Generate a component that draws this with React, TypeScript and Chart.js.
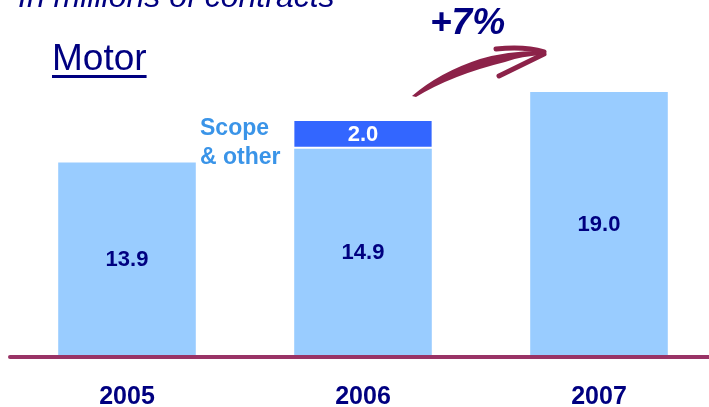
import React, { useEffect, useRef } from "react";
import { Chart, registerables } from "chart.js";

Chart.register(...registerables);

const years = ["2005", "2006", "2007"];
const baseValues = [13.9, 14.9, 19.0];
const scopeValues: (number | null)[] = [null, 2.0, null];
const headerText = "In millions of contracts";
const titleText = "Motor";
const growthText = "+7%";
const scopeTextLines = ["Scope", "& other"];

const FONT = "'Liberation Sans', Arial, Helvetica, sans-serif";
const NAVY = "#000080";
const LIGHT = "#99CCFF";
const DARK = "#3366FF";
const MAROON = "#8C2249";
const AXIS = "#993366";
const SCOPE_BLUE = "#3A94E8";

const overlayPlugin = {
  id: "overlay",
  afterDatasetsDraw(chart: any) {
    const ctx = chart.ctx as CanvasRenderingContext2D;
    const area = chart.chartArea;
    ctx.save();
    // axis line
    ctx.strokeStyle = AXIS;
    ctx.lineWidth = 4;
    ctx.lineCap = "round";
    ctx.beginPath();
    ctx.moveTo(10, area.bottom + 2);
    ctx.lineTo(chart.width + 5, area.bottom + 2);
    ctx.stroke();

    // value labels
    ctx.textAlign = "center";
    ctx.textBaseline = "middle";
    ctx.font = `bold 22px ${FONT}`;
    const meta0 = chart.getDatasetMeta(0);
    meta0.data.forEach((bar: any, i: number) => {
      const v = baseValues[i];
      ctx.fillStyle = NAVY;
      ctx.fillText(v.toFixed(1), bar.x, (bar.y + bar.base) / 2 + 1);
    });
    const meta1 = chart.getDatasetMeta(1);
    meta1.data.forEach((bar: any, i: number) => {
      const v = scopeValues[i];
      if (v == null) return;
      ctx.fillStyle = "#FFFFFF";
      ctx.fillText(v.toFixed(1), bar.x, (bar.y + bar.base) / 2);
    });

    // header
    ctx.textAlign = "left";
    ctx.textBaseline = "alphabetic";
    ctx.fillStyle = NAVY;
    ctx.font = `italic 32px ${FONT}`;
    ctx.fillText(headerText, 18, 7);

    ctx.font = `37px ${FONT}`;
    ctx.fillText(titleText, 52, 70);
    const tw = ctx.measureText(titleText).width;
    ctx.fillRect(52, 75, tw, 3);

    ctx.font = `italic bold 37px ${FONT}`;
    ctx.fillText(growthText, 430, 34);

    ctx.fillStyle = SCOPE_BLUE;
    ctx.font = `bold 23px ${FONT}`;
    ctx.fillText(scopeTextLines[0], 200, 135);
    ctx.fillText(scopeTextLines[1], 200, 164);

    // arrow
    ctx.fillStyle = MAROON;
    ctx.beginPath();
    ctx.moveTo(412, 96);
    ctx.quadraticCurveTo(440, 72, 480, 59);
    ctx.quadraticCurveTo(510, 50, 546, 51);
    ctx.lineTo(546, 55);
    ctx.quadraticCurveTo(520, 56, 505, 62);
    ctx.quadraticCurveTo(452, 75, 416, 97);
    ctx.closePath();
    ctx.fill();
    ctx.strokeStyle = MAROON;
    ctx.lineCap = "round";
    ctx.lineWidth = 5;
    ctx.beginPath();
    ctx.moveTo(544, 54);
    ctx.lineTo(499, 76);
    ctx.stroke();
    ctx.lineWidth = 5;
    ctx.beginPath();
    ctx.moveTo(496, 49);
    ctx.quadraticCurveTo(525, 46, 544, 52);
    ctx.stroke();
    ctx.restore();
  },
};

export default function App() {
  const canvasRef = useRef<HTMLCanvasElement | null>(null);

  useEffect(() => {
    if (!canvasRef.current) return;
    const chart = new Chart(canvasRef.current, {
      type: "bar",
      data: {
        labels: years,
        datasets: [
          {
            label: "Base",
            data: baseValues,
            backgroundColor: LIGHT,
            borderWidth: 0,
            barPercentage: 0.583,
            categoryPercentage: 1,
          },
          {
            label: "Scope & other",
            data: scopeValues,
            backgroundColor: DARK,
            borderColor: "#FFFFFF",
            borderWidth: { top: 0, left: 0, right: 0, bottom: 2 },
            borderSkipped: false,
            barPercentage: 0.583,
            categoryPercentage: 1,
          },
        ],
      },
      options: {
        responsive: false,
        animation: false,
        devicePixelRatio: 1,
        layout: { padding: { top: 9, left: 9, right: 0, bottom: 0 } },
        plugins: { legend: { display: false }, tooltip: { enabled: false } },
        scales: {
          x: {
            stacked: true,
            grid: { display: false, drawTicks: false },
            border: { display: false },
            ticks: {
              color: NAVY,
              font: { family: FONT, size: 25, weight: "bold" },
              padding: 27,
            },
            afterFit: (scale: any) => {
              scale.height = 52;
            },
          },
          y: {
            stacked: true,
            display: false,
            min: 0,
            max: 25,
          },
        },
      },
      plugins: [overlayPlugin],
    });
    return () => chart.destroy();
  }, []);

  return (
    <div
      style={{
        position: "fixed",
        left: 0,
        top: 0,
        width: 709,
        height: 407,
        overflow: "hidden",
        background: "#FFFFFF",
      }}
    >
      <canvas ref={canvasRef} width={717} height={407} style={{ width: 717, height: 407, display: "block" }} />
    </div>
  );
}
